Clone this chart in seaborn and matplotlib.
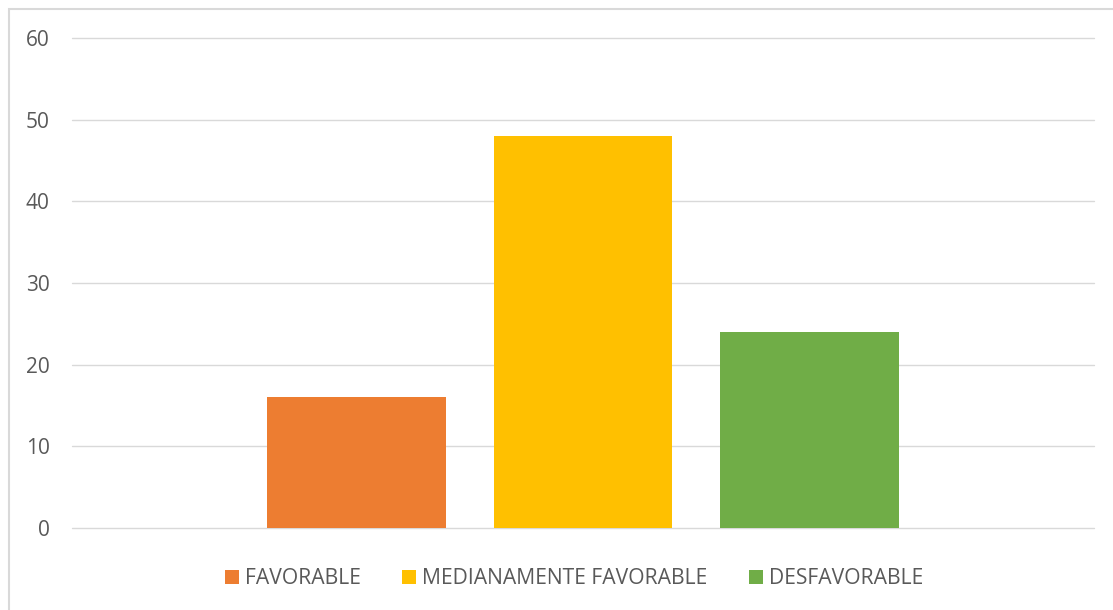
import pandas as pd
import seaborn as sns
import matplotlib.pyplot as plt
from matplotlib.patches import Rectangle

# Data
categories = ["FAVORABLE", "MEDIANAMENTE FAVORABLE", "DESFAVORABLE"]
values = [16, 48, 24]
colors = ["#ED7D31", "#FFC000", "#70AD47"]
y_ticks = [0, 10, 20, 30, 40, 50, 60]

df = pd.DataFrame({"grupo": [""] * len(categories), "serie": categories, "valor": values})

sns.set_style("white")
plt.rcParams["font.family"] = ["Open Sans", "DejaVu Sans"]
text_color = "#595959"

fig = plt.figure(figsize=(11.13, 6.10), dpi=100)
ax = fig.add_axes([72 / 1113, 82 / 610, 1022 / 1113, 490 / 610])

sns.barplot(
    data=df, x="grupo", y="valor", hue="serie",
    palette=colors, hue_order=categories,
    width=0.665, gap=0.21, saturation=1, ax=ax, legend=True,
    linewidth=0,
)

ax.set_xlim(-0.5, 0.5)
ax.set_ylim(0, 60)
ax.set_yticks(y_ticks)
ax.yaxis.grid(True, color="#D9D9D9", linewidth=1)
for gl in ax.get_ygridlines():
    gl.set_clip_on(False)
ax.set_axisbelow(True)
for s in ax.spines.values():
    s.set_visible(False)
ax.set_xlabel("")
ax.set_ylabel("")
ax.set_xticks([])
ax.tick_params(axis="y", length=0, pad=16, labelsize=15, labelcolor=text_color)

handles, labels = ax.get_legend_handles_labels()
ax.get_legend().remove()
fig.legend(
    handles, labels, loc="center", bbox_to_anchor=(574 / 1113, (610 - 579) / 610),
    ncol=3, frameon=False, fontsize=15.2, labelcolor=text_color,
    handlelength=0.66, handleheight=0.66, handletextpad=0.3, columnspacing=1.95,
)

# light border of the chart area
fig.patches.append(Rectangle((9 / 1113, -0.05), 1.1, (610 - 9) / 610 + 0.05,
                             transform=fig.transFigure, fill=False,
                             edgecolor="#D9D9D9", linewidth=1.5))

fig.savefig("out.png", dpi=100)
